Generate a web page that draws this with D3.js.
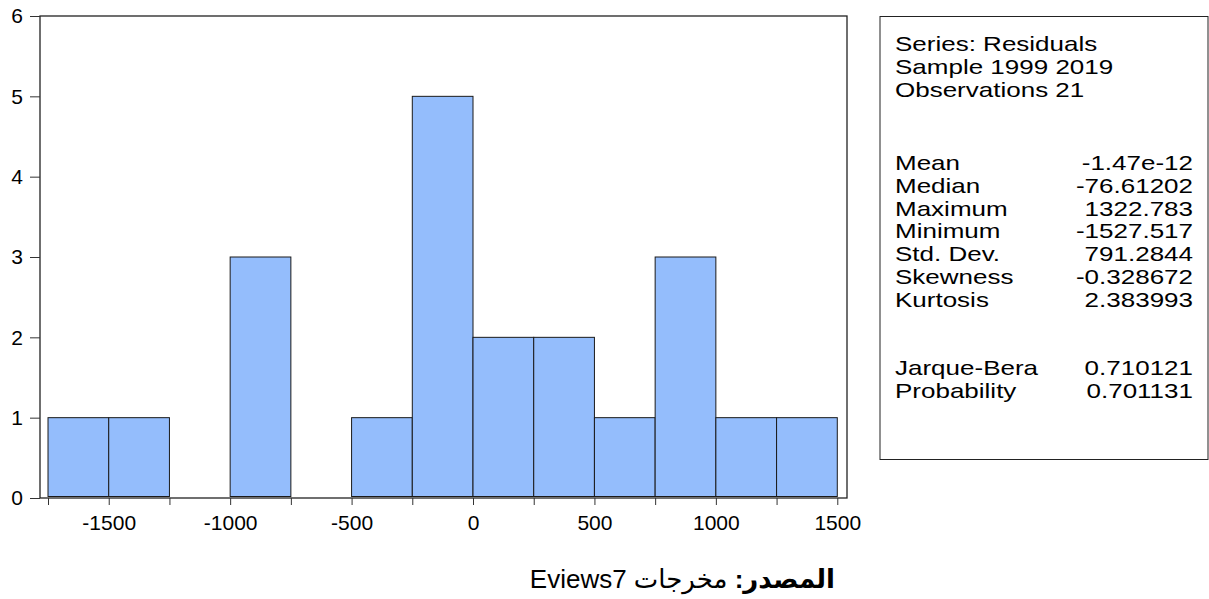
<!DOCTYPE html>
<html><head><meta charset="utf-8">
<script src="https://cdn.jsdelivr.net/npm/d3@7"></script>
<style>
body{margin:0;background:#fff;}
text{font-family:"Liberation Sans",Arial,"DejaVu Sans",sans-serif;}
</style></head>
<body><svg id="c" width="1209" height="599"></svg>
<script>
const binStarts = [-1750,-1500,-1250,-1000,-750,-500,-250,0,250,500,750,1000,1250];
const binWidth = 250;
const counts = [1,1,0,3,0,1,5,2,2,1,3,1,1];
const xTickLabels = [-1500,-1000,-500,0,500,1000,1500];
const xMinorTicks = [-1750,-1500,-1250,-1000,-750,-500,-250,0,250,500,750,1000,1250,1500];
const yTicks = [0,1,2,3,4,5,6];
const headerLines = ["Series: Residuals","Sample 1999 2019","Observations 21"];
const statNames = ["Mean","Median","Maximum","Minimum","Std. Dev.","Skewness","Kurtosis"];
const statValues = ["-1.47e-12","-76.61202","1322.783","-1527.517","791.2844","-0.328672","2.383993"];
const testNames = ["Jarque-Bera","Probability"];
const testValues = ["0.710121","0.701131"];

const svg = d3.select("#c");
const L=40, R=847, T=16, B=498;
const x = d3.scaleLinear().domain([-1783,1540]).range([L,R]);
const y = d3.scaleLinear().domain([0,6]).range([B,T]);
const fmt = d => String(d);

// bars
svg.append("g").selectAll("rect").data(binStarts.map((s,i)=>({s,c:counts[i]})).filter(d=>d.c>0))
 .join("rect")
 .attr("x",d=>x(d.s)).attr("width",d=>x(d.s+binWidth)-x(d.s))
 .attr("y",d=>y(d.c)).attr("height",d=>y(0)-y(d.c)-1.5)
 .attr("fill","#94bdfc").attr("stroke","#1a1a1a").attr("stroke-width",1);

// frame
svg.append("rect").attr("x",L).attr("y",T).attr("width",R-L).attr("height",B-T)
 .attr("fill","none").attr("stroke","#222").attr("stroke-width",1.3);

// x axis
const xAxis = d3.axisBottom(x).tickValues(xMinorTicks).tickSize(7).tickPadding(10)
 .tickFormat(d=>xTickLabels.includes(d)?fmt(d):"");
const gx = svg.append("g").attr("transform",`translate(0,${B})`).call(xAxis);
gx.select(".domain").remove();
gx.selectAll("line").attr("stroke","#333");
gx.selectAll("text").attr("font-size",21).attr("fill","#000")
  .style("font-family","Liberation Sans, Arial, sans-serif");

// y axis
const yAxis = d3.axisLeft(y).tickValues(yTicks).tickSize(10).tickPadding(7).tickFormat(fmt);
const gy = svg.append("g").attr("transform",`translate(${L},0)`).call(yAxis);
gy.select(".domain").remove();
gy.selectAll("line").attr("stroke","#333");
gy.selectAll("text").attr("font-size",21).attr("fill","#000")
  .style("font-family","Liberation Sans, Arial, sans-serif");

// stats box
const bx=880, by=16.5, bw=328, bh=443;
svg.append("rect").attr("x",bx).attr("y",by).attr("width",bw).attr("height",bh)
 .attr("fill","#fff").attr("stroke","#222").attr("stroke-width",1);
const lh=22.8, tx=895, vx=1193, fs=20, sx=1.3;
const g = svg.append("g").attr("font-size",fs).attr("fill","#000");
function put(xp, yp, t, anchor){
  g.append("g").attr("transform",`translate(${xp},${yp}) scale(${sx},1)`)
   .append("text").attr("text-anchor",anchor||"start").text(t);
}
headerLines.forEach((t,i)=>put(tx,51+i*lh,t));
statNames.forEach((t,i)=>{ put(tx,170+i*lh,t); put(vx,170+i*lh,statValues[i],"end"); });
testNames.forEach((t,i)=>{ put(tx,375+i*lh,t); put(vx,375+i*lh,testValues[i],"end"); });

// source note
const src = svg.append("text").attr("x",835).attr("y",588).attr("direction","rtl")
 .attr("text-anchor","start").attr("font-size",26).attr("fill","#000")
 .style("font-family","'Liberation Sans','DejaVu Sans',sans-serif");
src.append("tspan").attr("font-weight","bold").text("المصدر:");
src.append("tspan").text(" مخرجات Eviews7");
</script></body></html>
